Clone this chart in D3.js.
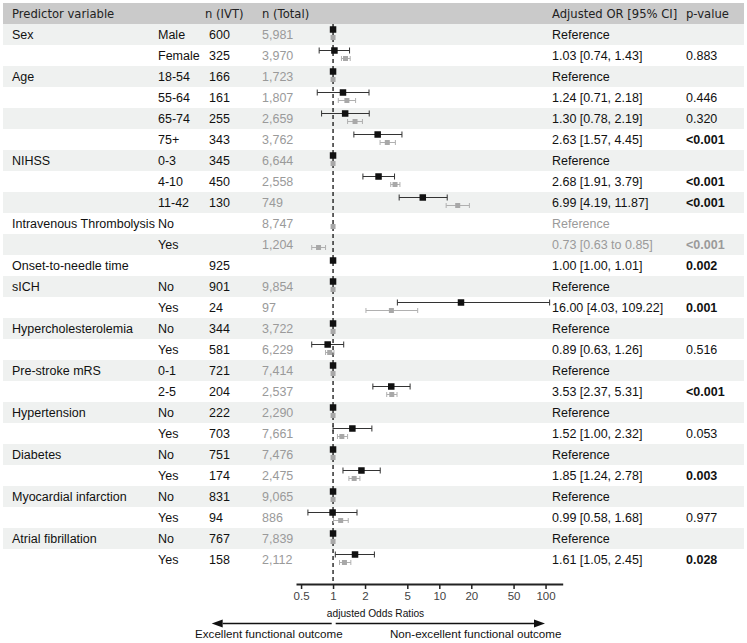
<!DOCTYPE html>
<html>
<head>
<meta charset="utf-8">
<script src="https://cdn.jsdelivr.net/npm/d3@7"></script>
<style>
  html, body { margin: 0; padding: 0; background: #fff; }
  svg { display: block; }
  .hdr { font-family: "DejaVu Sans", sans-serif; font-size: 11.6px; fill: #222; }
  .cell { font-family: "Liberation Sans", Arial, sans-serif; font-size: 12.5px; fill: #111; }
  .muted { fill: #9a9a9a; }
  .bold { font-weight: bold; }
  .tick text { font-family: "Liberation Sans", Arial, sans-serif; font-size: 11.5px; fill: #444; }
</style>
</head>
<body>
<svg id="chart" width="747" height="643"></svg>
<script>
'use strict';

// ---- Data -------------------------------------------------------------------

const headers = ['Predictor variable', 'n (IVT)', 'n (Total)', 'Adjusted OR [95% CI]', 'p-value'];

const variables = ['Sex', '', 'Age', '', '', '', 'NIHSS', '', '', 'Intravenous Thrombolysis', '',
  'Onset-to-needle time', 'sICH', '', 'Hypercholesterolemia', '', 'Pre-stroke mRS', '',
  'Hypertension', '', 'Diabetes', '', 'Myocardial infarction', '', 'Atrial fibrillation', ''];

const levels = ['Male', 'Female', '18-54', '55-64', '65-74', '75+', '0-3', '4-10', '11-42', 'No', 'Yes',
  '', 'No', 'Yes', 'No', 'Yes', '0-1', '2-5', 'No', 'Yes', 'No', 'Yes', 'No', 'Yes', 'No', 'Yes'];

const nIVT = ['600', '325', '166', '161', '255', '343', '345', '450', '130', '', '', '925', '901', '24',
  '344', '581', '721', '204', '222', '703', '751', '174', '831', '94', '767', '158'];

const nTotal = ['5,981', '3,970', '1,723', '1,807', '2,659', '3,762', '6,644', '2,558', '749', '8,747',
  '1,204', '', '9,854', '97', '3,722', '6,229', '7,414', '2,537', '2,290', '7,661', '7,476', '2,475',
  '9,065', '886', '7,839', '2,112'];

// [OR, lower, upper] for the IVT cohort (black); null where not estimated
const orIVT = [[1, 1, 1], [1.03, 0.74, 1.43], [1, 1, 1], [1.24, 0.71, 2.18], [1.30, 0.78, 2.19],
  [2.63, 1.57, 4.45], [1, 1, 1], [2.68, 1.91, 3.79], [6.99, 4.19, 11.87], null, null,
  [1.00, 1.00, 1.01], [1, 1, 1], [16.00, 4.03, 109.22], [1, 1, 1], [0.89, 0.63, 1.26], [1, 1, 1],
  [3.53, 2.37, 5.31], [1, 1, 1], [1.52, 1.00, 2.32], [1, 1, 1], [1.85, 1.24, 2.78], [1, 1, 1],
  [0.99, 0.58, 1.68], [1, 1, 1], [1.61, 1.05, 2.45]];

// [OR, lower, upper] for the total cohort (grey)
const orTotal = [[1, 1, 1], [1.31, 1.20, 1.45], [1, 1, 1], [1.35, 1.12, 1.63], [1.61, 1.37, 1.89],
  [3.24, 2.77, 3.86], [1, 1, 1], [3.83, 3.49, 4.26], [14.9, 11.6, 19.2], [1, 1, 1],
  [0.73, 0.63, 0.85], null, [1, 1, 1], [3.54, 2.04, 6.26], [1, 1, 1], [0.93, 0.85, 1.02],
  [1, 1, 1], [3.57, 3.20, 4.00], [1, 1, 1], [1.21, 1.10, 1.37], [1, 1, 1], [1.58, 1.41, 1.79],
  [1, 1, 1], [1.18, 1.01, 1.39], [1, 1, 1], [1.28, 1.15, 1.47]];

const orText = ['Reference', '1.03 [0.74, 1.43]', 'Reference', '1.24 [0.71, 2.18]', '1.30 [0.78, 2.19]',
  '2.63 [1.57, 4.45]', 'Reference', '2.68 [1.91, 3.79]', '6.99 [4.19, 11.87]', 'Reference',
  '0.73 [0.63 to 0.85]', '1.00 [1.00, 1.01]', 'Reference', '16.00 [4.03, 109.22]', 'Reference',
  '0.89 [0.63, 1.26]', 'Reference', '3.53 [2.37, 5.31]', 'Reference', '1.52 [1.00, 2.32]',
  'Reference', '1.85 [1.24, 2.78]', 'Reference', '0.99 [0.58, 1.68]', 'Reference', '1.61 [1.05, 2.45]'];

const pText = ['', '0.883', '', '0.446', '0.320', '<0.001', '', '<0.001', '<0.001', '', '<0.001',
  '0.002', '', '0.001', '', '0.516', '', '<0.001', '', '0.053', '', '0.003', '', '0.977', '', '0.028'];

const pBold = pText.map(p => p === '<0.001' || (p !== '' && +p < 0.05));

// rows that belong to the total cohort only (drawn in grey)
const greyRows = [9, 10];

const ticks = [0.5, 1, 2, 5, 10, 20, 50, 100];

// ---- Layout -----------------------------------------------------------------

const svg = d3.select('#chart');
const ROW_H = 21, TOP = 24, LEFT = 3, RIGHT = 744;
const rows = d3.range(variables.length);

const y = d3.scaleBand().domain(rows).range([TOP, TOP + rows.length * ROW_H]);
const x = d3.scaleLog().domain([0.448, 145]).range([296, 562.7]);
const AXIS_Y = 584;

const COL = { variable: 12, level: 158, nIVT: 209, nTotal: 262, or: 552, p: 686 };

// header band + zebra stripes
svg.append('rect').attr('x', LEFT).attr('y', 3).attr('width', RIGHT - LEFT).attr('height', TOP - 3)
  .attr('fill', '#cacaca');
svg.append('g').selectAll('rect')
  .data(rows.filter(i => i % 2 === 0))
  .join('rect')
  .attr('x', LEFT).attr('y', i => y(i)).attr('width', RIGHT - LEFT).attr('height', ROW_H)
  .attr('fill', '#eff1f0');

// header text
const hx = [COL.variable, COL.nIVT - 4, COL.nTotal, COL.or, COL.p];
svg.append('g').selectAll('text')
  .data(headers)
  .join('text')
  .attr('class', 'hdr')
  .attr('x', (d, i) => hx[i]).attr('y', 14).attr('dy', '0.35em')
  .text(d => d);

// table cells
const cells = svg.append('g');
function column(values, xPos, cls) {
  cells.append('g').selectAll('text')
    .data(rows)
    .join('text')
    .attr('class', i => 'cell' + (typeof cls === 'function' ? cls(i) : (cls || '')))
    .attr('x', xPos)
    .attr('y', i => y(i) + ROW_H / 2 + 0.5).attr('dy', '0.35em')
    .text(i => values[i]);
}
column(variables, COL.variable);
column(levels, COL.level);
column(nIVT, COL.nIVT);
column(nTotal, COL.nTotal, ' muted');
column(orText, COL.or, i => greyRows.includes(i) ? ' muted' : '');
column(pText, COL.p, i => (greyRows.includes(i) ? ' muted' : '') + (pBold[i] ? ' bold' : ''));

// ---- Forest plot ------------------------------------------------------------

// reference line at OR = 1
svg.append('line')
  .attr('x1', x(1)).attr('x2', x(1)).attr('y1', TOP).attr('y2', AXIS_Y)
  .attr('stroke', '#111').attr('stroke-width', 1.3).attr('stroke-dasharray', '4,3');

function series(data, dy, opts) {
  const g = svg.append('g');
  const pts = rows.filter(i => data[i]).map(i => ({ i, v: data[i] }));
  const ci = g.selectAll('g.ci').data(pts.filter(d => d.v[2] > d.v[1])).join('g').attr('class', 'ci')
    .attr('stroke', opts.line).attr('stroke-width', 1);
  ci.append('line')
    .attr('x1', d => x(d.v[1])).attr('x2', d => x(d.v[2]))
    .attr('y1', d => y(d.i) + ROW_H / 2 + dy).attr('y2', d => y(d.i) + ROW_H / 2 + dy);
  [1, 2].forEach(k => {
    ci.append('line')
      .attr('x1', d => x(d.v[k])).attr('x2', d => x(d.v[k]))
      .attr('y1', d => y(d.i) + ROW_H / 2 + dy - opts.cap)
      .attr('y2', d => y(d.i) + ROW_H / 2 + dy + opts.cap);
  });
  g.selectAll('rect').data(pts).join('rect')
    .attr('x', d => x(d.v[0]) - opts.size / 2)
    .attr('y', d => y(d.i) + ROW_H / 2 + dy - opts.size / 2)
    .attr('width', opts.size).attr('height', opts.size)
    .attr('fill', opts.fill);
}
series(orTotal, 3, { fill: '#a8a8a8', line: '#b0b0b0', size: 5, cap: 2.5 });
series(orIVT, -5, { fill: '#111', line: '#333', size: 6.5, cap: 3 });

// ---- Axis -------------------------------------------------------------------

const axis = svg.append('g')
  .attr('transform', `translate(0,${AXIS_Y})`)
  .call(d3.axisBottom(x).tickValues(ticks).tickSize(5).tickSizeOuter(0).tickPadding(3)
    .tickFormat(d => String(d)));
axis.select('.domain').attr('stroke', '#222').attr('stroke-width', 1.8);
axis.selectAll('.tick line').attr('stroke', '#222').attr('stroke-width', 1.5);

svg.append('text')
  .attr('x', 375.5).attr('y', 613).attr('dy', '0.35em')
  .attr('text-anchor', 'middle')
  .style('font-family', '"Liberation Sans", Arial, sans-serif').style('font-size', '10.2px')
  .attr('fill', '#111')
  .text('adjusted Odds Ratios');

// direction arrows
const ARROW_Y = 623.5;
const arrows = [
  { from: 331.7, to: 211.7, label: 'Excellent functional outcome', lx: 342.7, anchor: 'end' },
  { from: 335.7, to: 545, label: 'Non-excellent functional outcome', lx: 390, anchor: 'start' }
];
arrows.forEach(a => {
  const dir = Math.sign(a.to - a.from);
  const headLen = 11, headW = 4;
  svg.append('line')
    .attr('x1', a.from).attr('x2', a.to - dir * headLen)
    .attr('y1', ARROW_Y).attr('y2', ARROW_Y)
    .attr('stroke', '#111').attr('stroke-width', 1.5);
  svg.append('path')
    .attr('d', `M${a.to},${ARROW_Y}L${a.to - dir * headLen},${ARROW_Y - headW}L${a.to - dir * headLen},${ARROW_Y + headW}Z`)
    .attr('fill', '#111');
  svg.append('text')
    .attr('x', a.lx).attr('y', 634).attr('dy', '0.35em')
    .attr('text-anchor', a.anchor)
    .style('font-family', '"Liberation Sans", Arial, sans-serif').style('font-size', '11.6px')
    .attr('fill', '#111')
    .text(a.label);
});
</script>
</body>
</html>
